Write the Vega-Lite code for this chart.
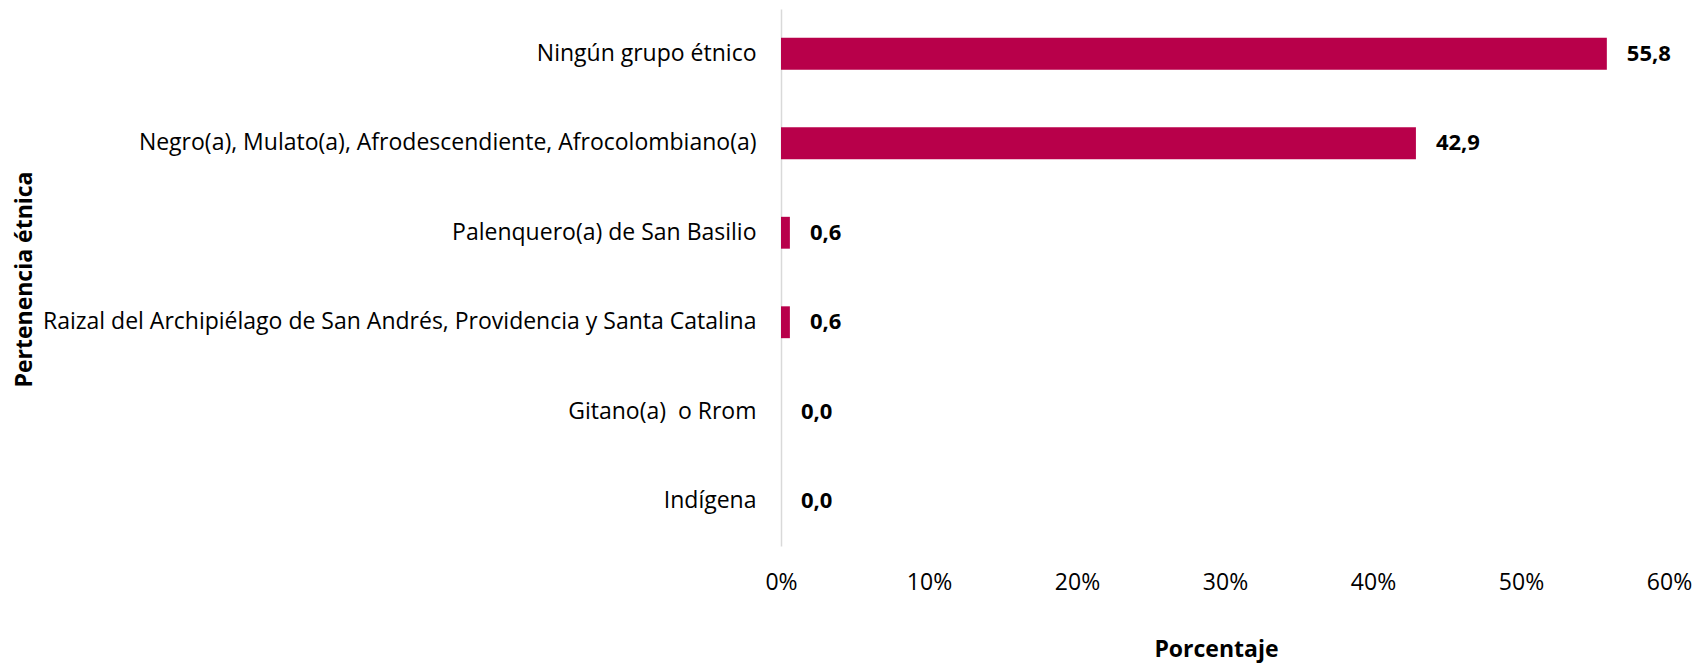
{
  "$schema": "https://vega.github.io/schema/vega-lite/v6.json",
  "width": 888,
  "height": 537,
  "autosize": {"type": "none"},
  "padding": {"left": 781, "top": 9, "right": 29, "bottom": 118},
  "background": "white",
  "config": {
    "view": {"stroke": null},
    "font": "Open Sans",
    "locale": {"number": {"decimal": ",", "thousands": ".", "grouping": [3], "currency": ["$", ""]}}
  },
  "data": {
    "values": [
      {"grupo": "Ningún grupo étnico", "pct": 55.8},
      {"grupo": "Negro(a), Mulato(a), Afrodescendiente, Afrocolombiano(a)", "pct": 42.9},
      {"grupo": "Palenquero(a) de San Basilio", "pct": 0.6},
      {"grupo": "Raizal del Archipiélago de San Andrés, Providencia y Santa Catalina", "pct": 0.6},
      {"grupo": "Gitano(a) \u00a0o Rrom", "pct": 0.0},
      {"grupo": "Indígena", "pct": 0.0}
    ]
  },
  "encoding": {
    "y": {
      "field": "grupo",
      "type": "nominal",
      "sort": null,
      "scale": {"paddingInner": 0.644, "paddingOuter": 0.322},
      "axis": {
        "title": "Pertenencia étnica",
        "titleFont": "Open Sans",
        "titleFontWeight": "bold",
        "titleFontSize": 23,
        "titleColor": "black",
        "titleX": -757,
        "titleY": 270,
        "titleAngle": -90,
        "titleAlign": "center",
        "titleBaseline": "middle",
        "labelFontSize": 23,
        "labelColor": "black",
        "labelPadding": 25,
        "labelLimit": 1000,
        "ticks": false,
        "tickSize": 0,
        "domain": true,
        "domainColor": "#d9d9d9",
        "domainWidth": 1.5,
        "grid": false
      }
    },
    "x": {
      "field": "pct",
      "type": "quantitative",
      "scale": {"domain": [0, 60], "nice": false},
      "axis": {
        "title": "Porcentaje",
        "titleFontWeight": "bold",
        "titleFontSize": 23,
        "titleColor": "black",
        "titleX": 435,
        "titleY": 103,
        "titleAlign": "center",
        "titleBaseline": "middle",
        "values": [0, 10, 20, 30, 40, 50, 60],
        "labelExpr": "datum.value + '%'",
        "labelFlush": false,
        "labelFontSize": 23,
        "labelColor": "black",
        "labelPadding": 25,
        "ticks": false,
        "tickSize": 0,
        "domain": false,
        "grid": false
      }
    }
  },
  "layer": [
    {"mark": {"type": "bar", "color": "#B8004A"}},
    {
      "mark": {"type": "text", "align": "left", "baseline": "middle", "dx": 20, "fontWeight": "bold", "fontSize": 22, "color": "black"},
      "encoding": {"text": {"field": "pct", "type": "quantitative", "format": ".1f"}}
    }
  ]
}
